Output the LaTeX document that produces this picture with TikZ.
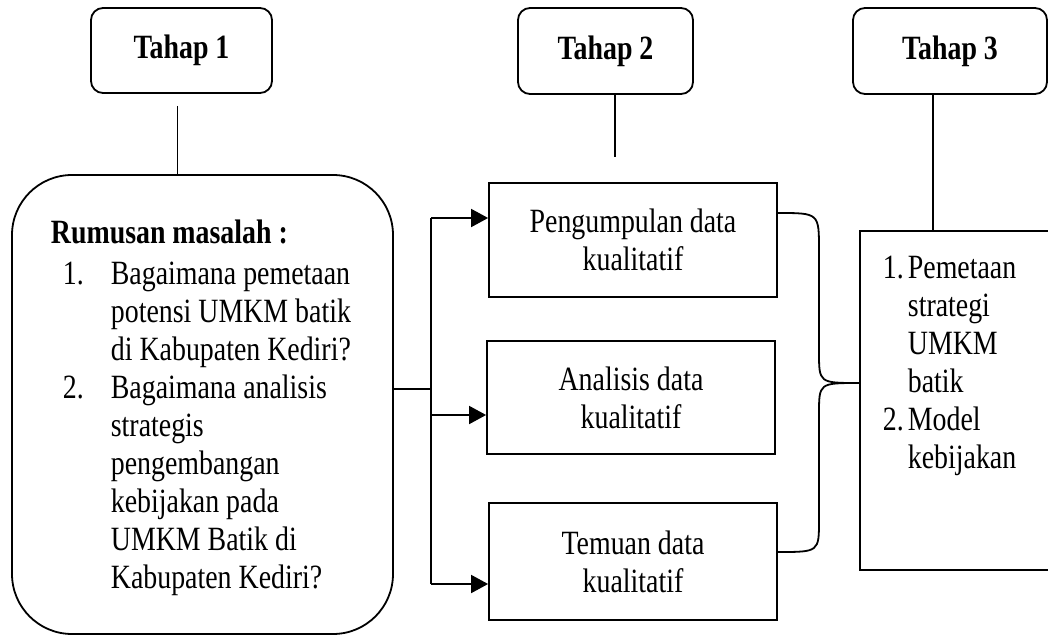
\documentclass[tikz,border=0pt]{standalone}
\usepackage{fontspec}
\setmainfont{Liberation Serif}[FakeStretch=0.82]
\usetikzlibrary{arrows.meta}
\begin{document}
\begin{tikzpicture}[x=0.5pt,y=-0.5pt,line width=0.9pt,
  every node/.style={font=\fontsize{17}{19}\selectfont},
  stage/.style={draw,rounded corners=6pt,inner sep=0pt,font=\fontsize{17}{19}\selectfont\bfseries},
  stepbox/.style={draw,align=center,inner sep=0pt,minimum width=144pt},
  arr/.style={-{Triangle[length=8.5pt,width=9pt]}}]
\useasboundingbox (0,0) rectangle (1048,637);
\clip (0,0) rectangle (1048,637);
% tahap
\node[stage,minimum width=90.5pt,minimum height=42.5pt] (t1) at (181.5,50.5) {Tahap 1};
\node[stage,minimum width=87.5pt,minimum height=43pt] (t2) at (605.5,51) {Tahap 2};
\node[stage,minimum width=97pt,minimum height=43pt] (t3) at (950,51) {Tahap 3};
% rumusan masalah
\node[draw,rounded corners=30pt,minimum width=190.5pt,minimum height=229.5pt] (rm) at (202.5,404.5) {};
\node[anchor=base west,inner sep=0pt] (rmtext) at (50,243) {\begin{tabular}[t]{@{}p{30pt}@{}l@{}}
\multicolumn{2}{@{}l}{\textbf{Rumusan masalah :}}\\[1.5pt]
\hspace*{6pt}1. & Bagaimana pemetaan\\
 & potensi UMKM batik\\
 & di Kabupaten Kediri?\\
\hspace*{6pt}2. & Bagaimana analisis\\
 & strategis\\
 & pengembangan\\
 & kebijakan pada\\
 & UMKM Batik di\\
 & Kabupaten Kediri?
\end{tabular}};
% tahap 2
\node[stepbox,minimum height=57pt] (b1) at (633,240) {Pengumpulan data\\kualitatif};
\node[stepbox,minimum height=56.5pt] (b2) at (631,397.5) {Analisis data\\kualitatif};
\node[stepbox,minimum height=58.5pt] (b3) at (633,561.5) {Temuan data\\kualitatif};
% hasil
\node[draw,minimum width=97.5pt,minimum height=169.5pt] (res) at (957.5,400.5) {};
\node[anchor=base west,inner sep=0pt] (restext) at (882,278) {\begin{tabular}[t]{@{}p{12.5pt}@{}l@{}}
1. & Pemetaan\\
 & strategi\\
 & UMKM\\
 & batik\\
2. & Model\\
 & kebijakan
\end{tabular}};
% garis tahap
\coordinate (t2end) at (615,157);
\draw ([xshift=-2pt,yshift=-6pt]t1.south) -- ([xshift=-2pt]t1.south |- rm.north);
\draw (t2.south -| t2end) -- (t2end);
\draw ([xshift=-8.5pt]t3.south) -- ([xshift=-8.5pt]t3.south |- res.north);
% cabang
\coordinate (jm) at (431,389);
\coordinate (j1) at (431,218);
\coordinate (j2) at (431,415);
\coordinate (j3) at (431,584);
\draw (rm.east |- jm) -- (jm);
\draw (j1) -- (j3);
\draw[arr] (j1) -- (j1 -| b1.west);
\draw[arr] (j2) -- (j2 -| b2.west);
\draw[arr] (j3) -- (j3 -| b3.west);
% kurung
\coordinate (bu) at (790,213);
\coordinate (bd) at (790,552);
\coordinate (tip) at ([yshift=8.75pt]res.west);
\draw (b1.east |- bu) .. controls (819,213) .. (819,250) -- (819,352) .. controls (819,383) .. (tip);
\draw (tip) .. controls (819,383) .. (819,414) -- (819,520) .. controls (819,552) .. (b3.east |- bd);
\end{tikzpicture}
\end{document}
